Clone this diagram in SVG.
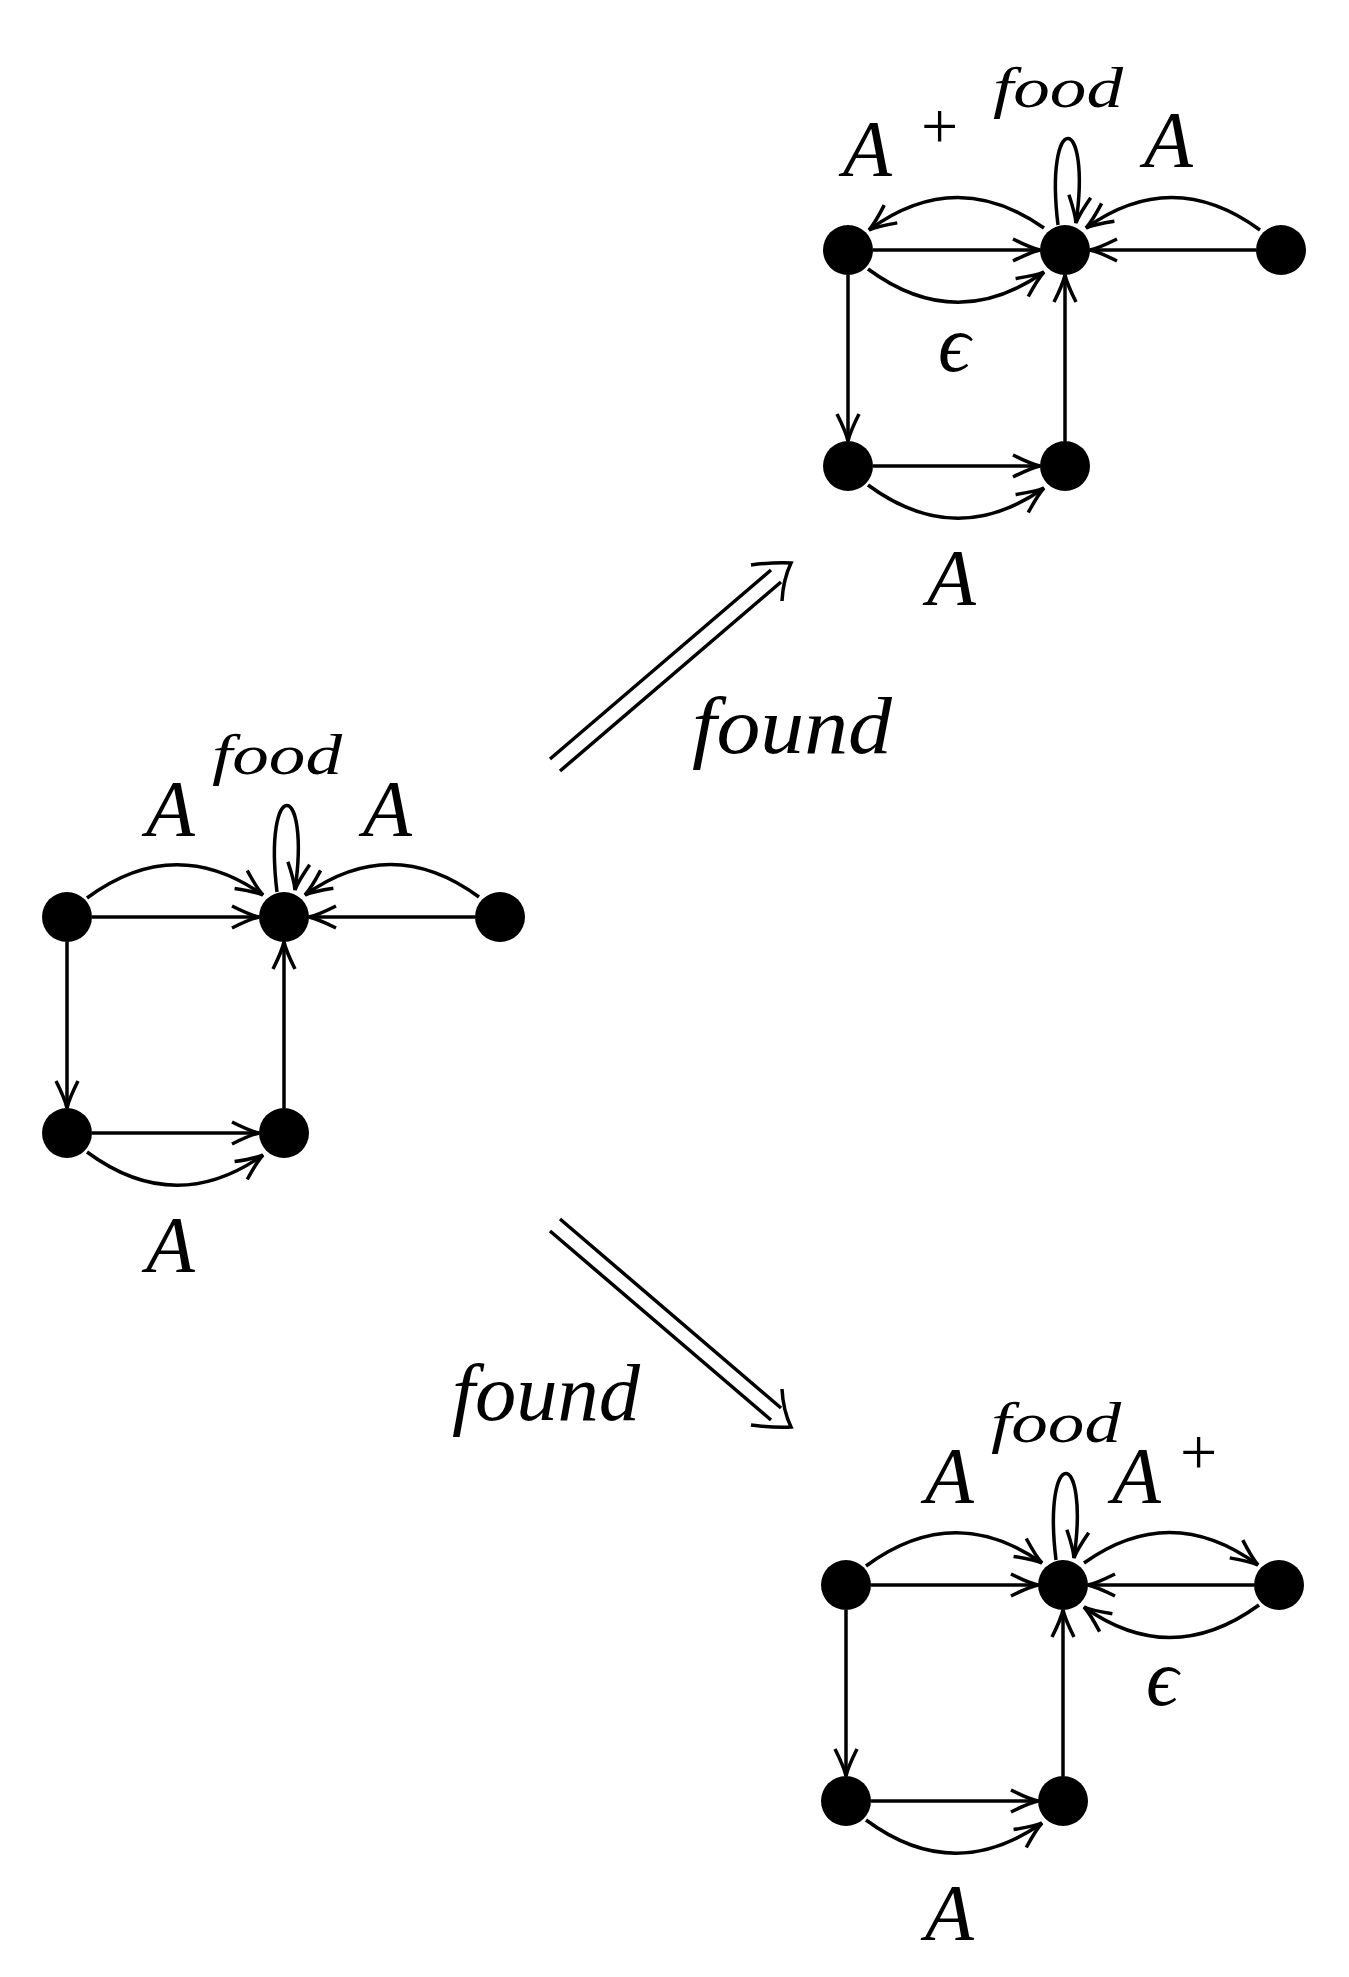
<svg xmlns="http://www.w3.org/2000/svg" width="1349" height="1977" viewBox="0 0 1349 1977">
<defs>
<style>
.e{fill:none;stroke:#000;stroke-width:3.5}
.n{fill:#000}
.t{font-family:"Liberation Serif",serif;font-style:italic;font-size:80px;fill:#000}
.f{font-family:"Liberation Serif",serif;font-style:italic;font-size:58px;fill:#000}
.p{font-family:"Liberation Serif",serif;font-size:66px;fill:#000}
</style>
<marker id="ar" markerUnits="userSpaceOnUse" markerWidth="40" markerHeight="30" viewBox="-30 -15 32 30" refX="0" refY="0" orient="auto" overflow="visible">
<path d="M-27,-11 Q-9,-2 0,0 Q-9,2 -27,11" fill="none" stroke="#000" stroke-width="3.5"/>
</marker>
</defs>
<rect width="1349" height="1977" fill="#fff"/>

<!-- Graph 1 (left) -->
<g id="graph1" transform="translate(67,917)">
<g id="g1-edges">
<path class="e" marker-end="url(#ar)" d="M25,0 L192,0"/>
<path class="e" marker-end="url(#ar)" d="M20,-19 Q108,-84 196,-22"/>
<path class="e" marker-end="url(#ar)" d="M408,0 L242,0"/>
<path class="e" marker-end="url(#ar)" d="M412,-20 Q325,-84 238,-22"/>
<path class="e" marker-end="url(#ar)" d="M210,-25 C196,-140 244,-140 228,-27"/>
<path class="e" marker-end="url(#ar)" d="M0,25 L0,191"/>
<path class="e" marker-end="url(#ar)" d="M217,191 L217,25"/>
<path class="e" marker-end="url(#ar)" d="M25,216 L192,216"/>
<path class="e" marker-end="url(#ar)" d="M20,235 Q108,300 196,238"/>
</g>
<g id="g1-n1"><circle class="n" cx="0" cy="0" r="25"/></g>
<g id="g1-n2"><circle class="n" cx="217" cy="0" r="25"/></g>
<g id="g1-n3"><circle class="n" cx="433" cy="0" r="25"/></g>
<g id="g1-n4"><circle class="n" cx="0" cy="216" r="25"/></g>
<g id="g1-n5"><circle class="n" cx="217" cy="216" r="25"/></g>
<g id="g1-labels">
<text class="f" x="145" y="-143" textLength="130" lengthAdjust="spacingAndGlyphs">food</text>
<text class="t" x="79" y="-81">A</text>
<text class="t" x="296" y="-81">A</text>
<text class="t" x="79" y="355">A</text>
</g>
</g>

<!-- Graph 2 (top right) -->
<g id="graph2" transform="translate(848,250)">
<g id="g2-edges">
<path class="e" marker-end="url(#ar)" d="M25,0 L192,0"/>
<path class="e" marker-end="url(#ar)" d="M196,-22 Q108,-84 21,-20"/>
<path class="e" marker-end="url(#ar)" d="M20,19 Q108,84 196,22"/>
<path class="e" marker-end="url(#ar)" d="M408,0 L242,0"/>
<path class="e" marker-end="url(#ar)" d="M412,-20 Q325,-84 238,-22"/>
<path class="e" marker-end="url(#ar)" d="M210,-25 C196,-140 244,-140 228,-27"/>
<path class="e" marker-end="url(#ar)" d="M0,25 L0,191"/>
<path class="e" marker-end="url(#ar)" d="M217,191 L217,25"/>
<path class="e" marker-end="url(#ar)" d="M25,216 L192,216"/>
<path class="e" marker-end="url(#ar)" d="M20,235 Q108,300 196,238"/>
</g>
<g id="g2-n1"><circle class="n" cx="0" cy="0" r="25"/></g>
<g id="g2-n2"><circle class="n" cx="217" cy="0" r="25"/></g>
<g id="g2-n3"><circle class="n" cx="433" cy="0" r="25"/></g>
<g id="g2-n4"><circle class="n" cx="0" cy="216" r="25"/></g>
<g id="g2-n5"><circle class="n" cx="217" cy="216" r="25"/></g>
<g id="g2-labels">
<text class="f" x="145" y="-143" textLength="130" lengthAdjust="spacingAndGlyphs">food</text>
<text class="t" x="-5" y="-74">A</text>
<text class="p" x="73" y="-102">+</text>
<text class="t" x="296" y="-83">A</text>
<text class="t" x="90" y="121">ϵ</text>
<text class="t" x="79" y="355">A</text>
</g>
</g>

<!-- Graph 3 (bottom right) -->
<g id="graph3" transform="translate(846,1585)">
<g id="g3-edges">
<path class="e" marker-end="url(#ar)" d="M25,0 L192,0"/>
<path class="e" marker-end="url(#ar)" d="M20,-19 Q108,-84 196,-22"/>
<path class="e" marker-end="url(#ar)" d="M408,0 L242,0"/>
<path class="e" marker-end="url(#ar)" d="M238,-22 Q325,-84 412,-20"/>
<path class="e" marker-end="url(#ar)" d="M413,20 Q325,84 238,22"/>
<path class="e" marker-end="url(#ar)" d="M210,-25 C196,-140 244,-140 228,-27"/>
<path class="e" marker-end="url(#ar)" d="M0,25 L0,191"/>
<path class="e" marker-end="url(#ar)" d="M217,191 L217,25"/>
<path class="e" marker-end="url(#ar)" d="M25,216 L192,216"/>
<path class="e" marker-end="url(#ar)" d="M20,235 Q108,300 196,238"/>
</g>
<g id="g3-n1"><circle class="n" cx="0" cy="0" r="25"/></g>
<g id="g3-n2"><circle class="n" cx="217" cy="0" r="25"/></g>
<g id="g3-n3"><circle class="n" cx="433" cy="0" r="25"/></g>
<g id="g3-n4"><circle class="n" cx="0" cy="216" r="25"/></g>
<g id="g3-n5"><circle class="n" cx="217" cy="216" r="25"/></g>
<g id="g3-labels">
<text class="f" x="145" y="-143" textLength="130" lengthAdjust="spacingAndGlyphs">food</text>
<text class="t" x="79" y="-82">A</text>
<text class="t" x="266" y="-82">A</text>
<text class="p" x="334" y="-111">+</text>
<text class="t" x="300" y="120">ϵ</text>
<text class="t" x="79" y="355">A</text>
</g>
</g>

<!-- Transition arrows -->
<g id="transitions">
<path class="e" stroke-width="3" d="M550,759 L771,570 M560,771 L781,582"/>
<path class="e" stroke-width="3" d="M751,565 Q775,562 791,563 Q783,580 782,601"/>
<path class="e" stroke-width="3" d="M550,1231 L771,1420 M560,1219 L781,1408"/>
<path class="e" stroke-width="3" d="M751,1425 Q775,1428 791,1427 Q783,1410 782,1389"/>
</g>
<g id="transition-labels">
<text class="t" x="692" y="753" textLength="200" lengthAdjust="spacingAndGlyphs">found</text>
<text class="t" x="452" y="1420" textLength="188" lengthAdjust="spacingAndGlyphs">found</text>
</g>
</svg>
